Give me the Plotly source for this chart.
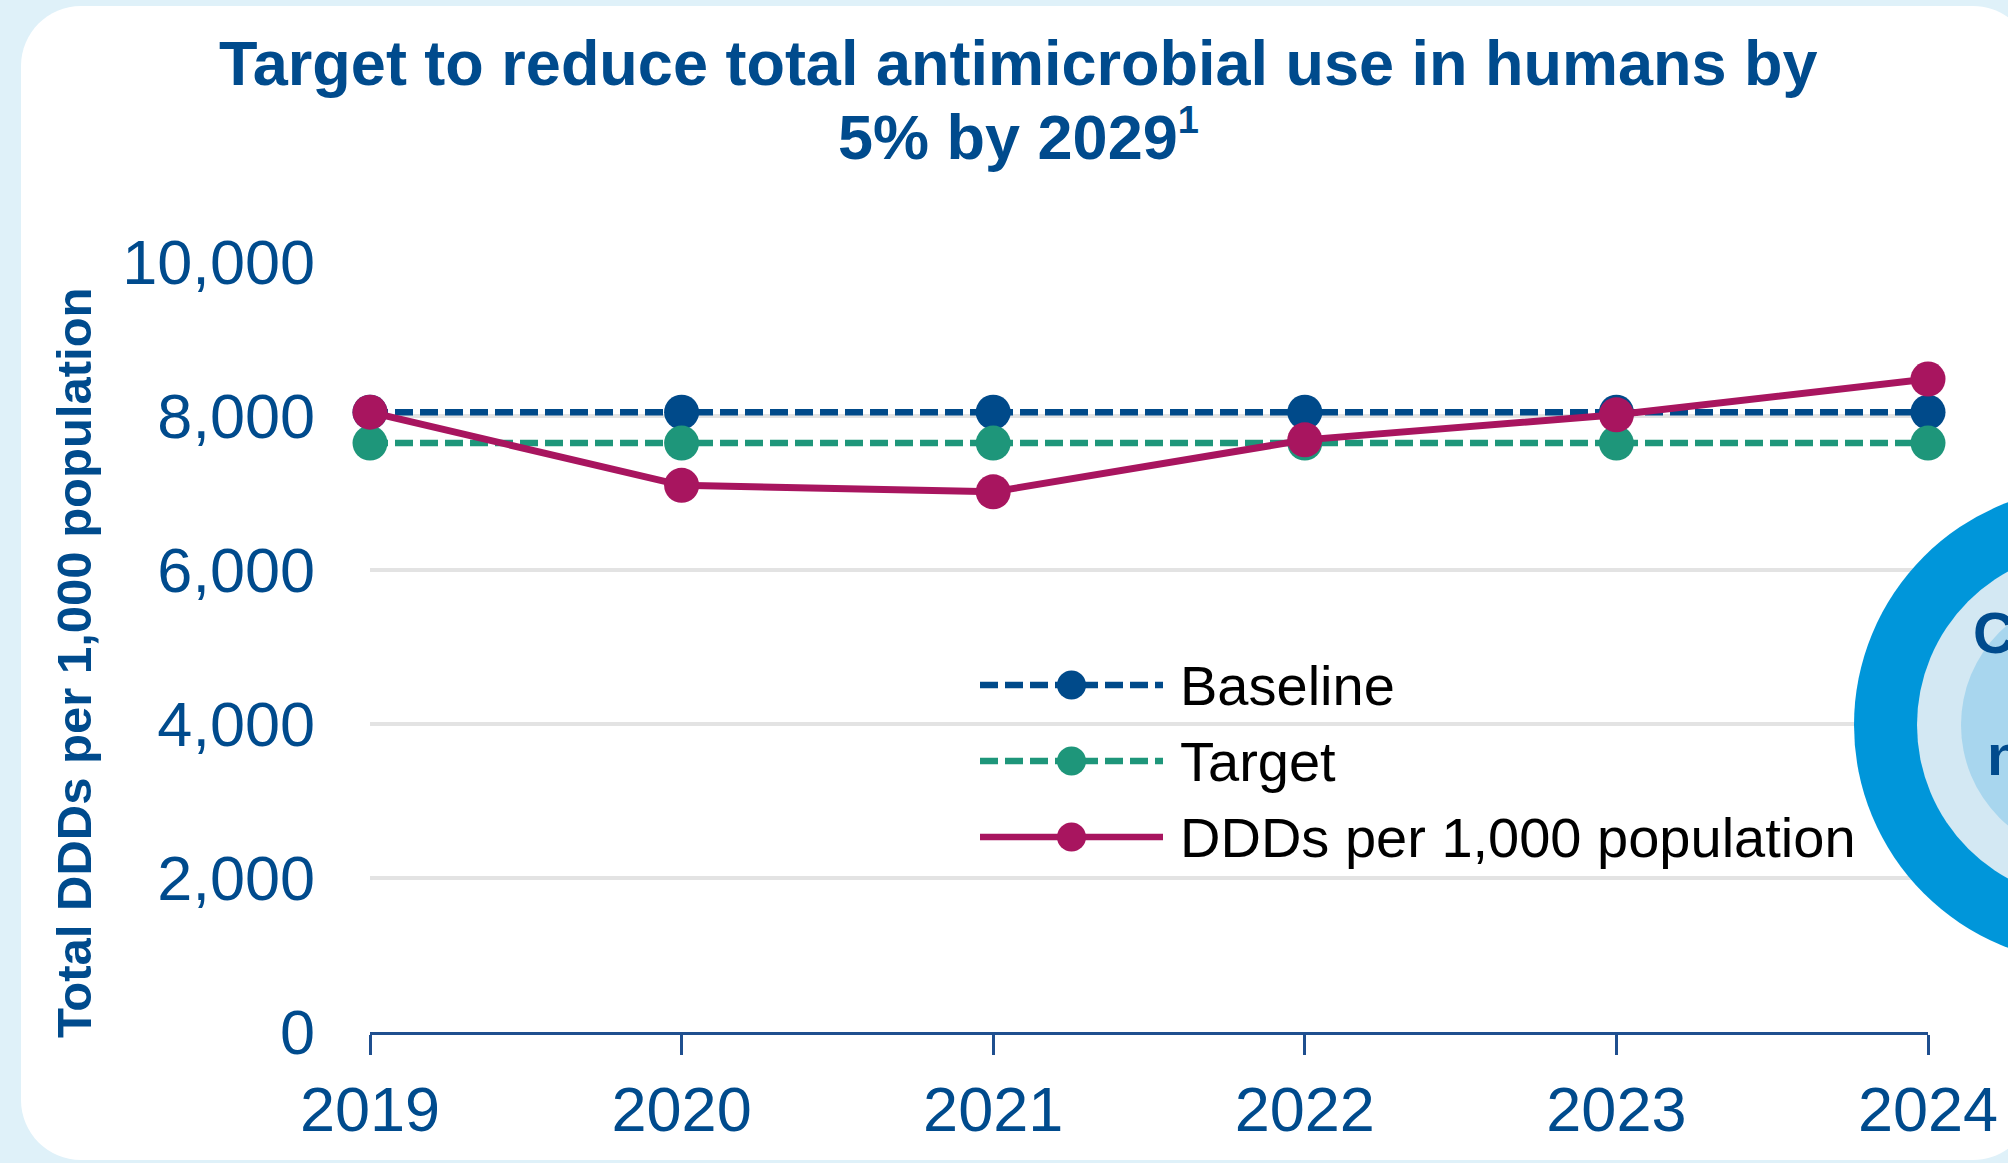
import plotly.graph_objects as go

# ---- data -------------------------------------------------------------
years = [2019, 2020, 2021, 2022, 2023, 2024]
baseline = [8050, 8050, 8050, 8050, 8050, 8050]
target = [7648, 7648, 7648, 7648, 7648, 7648]
ddds = [8050, 7100, 7015, 7690, 8015, 8480]
y_ticks = [0, 2000, 4000, 6000, 8000, 10000]
y_tick_text = ["0", "2,000", "4,000", "6,000", "8,000", "10,000"]
series_names = ["Baseline", "Target", "DDDs per 1,000 population"]

# ---- styling ----------------------------------------------------------
FONT = "Liberation Sans, Arial, sans-serif"
NAVY = "#004B8D"
AXIS = "#1F4F8F"
BLUE = "#004A8A"
TEAL = "#1E967A"
MAGENTA = "#A8155F"
GRID = "#E3E3E3"
PAGE = "#DFF1F9"
series_colors = [BLUE, TEAL, MAGENTA]
series_dash = ["18px,7px", "18px,7px", "solid"]

W, H = 2008, 1163
PL, PR, PT, PB = 370, 1928, 262, 1032  # plot box in pixels


def px(x):
    return (x - PL) / (PR - PL)


def py(y):
    return (PB - y) / (PB - PT)


fig = go.Figure()

for name, vals, col, dash in zip(series_names, [baseline, target, ddds],
                                 series_colors, series_dash):
    fig.add_trace(go.Scatter(
        x=years, y=vals, name=name, mode="lines+markers",
        line=dict(color=col, width=6.5 if dash != "solid" else 7, dash=dash),
        marker=dict(color=col, size=35, opacity=1, line=dict(width=0)),
        cliponaxis=False, showlegend=False,
    ))

# legend glyphs drawn on a small hidden subplot
for i, (name, col, dash) in enumerate(zip(series_names, series_colors, series_dash)):
    fig.add_trace(go.Scatter(
        x=[0, 0.5, 1], y=[i, i, i], mode="lines+markers",
        line=dict(color=col, width=6.5, dash=dash),
        marker=dict(color=col, size=[0, 29, 0], opacity=1, line=dict(width=0)),
        xaxis="x2", yaxis="y2", cliponaxis=False, showlegend=False,
        hoverinfo="skip",
    ))

annotations = []
for i, name in enumerate(series_names):
    annotations.append(dict(
        text=name, x=px(1178), xref="paper", y=i, yref="y2",
        xanchor="left", yanchor="middle", showarrow=False,
        font=dict(family=FONT, size=56, color="#000000"),
    ))

# title
annotations.append(dict(
    text="<b>Target to reduce total antimicrobial use in humans by</b>",
    x=px(1018), y=py(63), xref="paper", yref="paper",
    xanchor="center", yanchor="middle", showarrow=False,
    font=dict(family=FONT, size=63, color=NAVY),
))
annotations.append(dict(
    text="<b>5% by 2029<sup><span style='font-size:38px'>1</span></sup></b>",
    x=px(1018), y=py(135), xref="paper", yref="paper",
    xanchor="center", yanchor="middle", showarrow=False,
    font=dict(family=FONT, size=63, color=NAVY),
))

# y-axis title
annotations.append(dict(
    text="<b>Total DDDs per 1,000 population</b>",
    x=px(74), y=py(663), xref="paper", yref="paper",
    xanchor="center", yanchor="middle", textangle=-90, showarrow=False,
    font=dict(family=FONT, size=49, color=NAVY),
))

# text inside the roundel on the right edge
annotations.append(dict(
    text="<b>C</b>", x=px(1971), y=py(632), xref="paper", yref="paper",
    xanchor="left", yanchor="middle", showarrow=False,
    font=dict(family=FONT, size=58, color=NAVY),
))
annotations.append(dict(
    text="<b>n</b>", x=px(1985), y=py(754), xref="paper", yref="paper",
    xanchor="left", yanchor="middle", showarrow=False,
    font=dict(family=FONT, size=58, color=NAVY),
))

# white rounded card
cx0, cx1, cy0, cy1, r = 21, 2033, 6, 1160, 60
k = 0.5523 * r


def P(x, y):
    return f"{px(x):.5f},{py(y):.5f}"


card_path = (
    f"M{P(cx0 + r, cy0)} L{P(cx1 - r, cy0)} "
    f"C{P(cx1 - r + k, cy0)} {P(cx1, cy0 + r - k)} {P(cx1, cy0 + r)} "
    f"L{P(cx1, cy1 - r)} "
    f"C{P(cx1, cy1 - r + k)} {P(cx1 - r + k, cy1)} {P(cx1 - r, cy1)} "
    f"L{P(cx0 + r, cy1)} "
    f"C{P(cx0 + r - k, cy1)} {P(cx0, cy1 - r + k)} {P(cx0, cy1 - r)} "
    f"L{P(cx0, cy0 + r)} "
    f"C{P(cx0, cy0 + r - k)} {P(cx0 + r - k, cy0)} {P(cx0 + r, cy0)} Z"
)

shapes = [dict(type="path", path=card_path, xref="paper", yref="paper",
               fillcolor="#FFFFFF", line=dict(width=0), layer="below")]

# concentric roundel
rc_x, rc_y = 2092, 725
for rad, col in [(238, "#0096DA"), (175, "#D3E8F3"), (131, "#A8D6EE")]:
    shapes.append(dict(
        type="circle", xref="paper", yref="paper",
        x0=px(rc_x - rad), x1=px(rc_x + rad),
        y0=py(rc_y + rad), y1=py(rc_y - rad),
        fillcolor=col, line=dict(width=0), layer="above",
    ))

fig.update_layout(
    width=W, height=H,
    margin=dict(l=PL, r=W - PR, t=PT, b=H - PB, pad=0, autoexpand=False),
    paper_bgcolor=PAGE,
    plot_bgcolor="rgba(0,0,0,0)",
    font=dict(family=FONT, color=NAVY),
    showlegend=False,
    xaxis=dict(
        range=[years[0], years[-1]], tickvals=years,
        ticktext=[str(v) for v in years],
        showgrid=False, zeroline=False, automargin=False,
        showline=True, linecolor=AXIS, linewidth=3,
        ticks="outside", ticklen=20, tickwidth=2.5, tickcolor=AXIS,
        tickfont=dict(family=FONT, size=63, color=NAVY),
        ticklabelstandoff=0,
    ),
    yaxis=dict(
        range=[0, 10000], tickvals=y_ticks, ticktext=y_tick_text,
        showgrid=True, gridcolor=GRID, gridwidth=4, automargin=False,
        zeroline=False, showline=False, ticks="",
        tickfont=dict(family=FONT, size=63, color=NAVY),
        ticklabelstandoff=54,
    ),
    xaxis2=dict(domain=[px(980), px(1163)], range=[0, 1], anchor="y2",
                visible=False, fixedrange=True),
    yaxis2=dict(domain=[py(875), py(647)], range=[2.5, -0.5], anchor="x2",
                visible=False, fixedrange=True),
    annotations=annotations,
    shapes=shapes,
)

fig.write_html("out.html")
